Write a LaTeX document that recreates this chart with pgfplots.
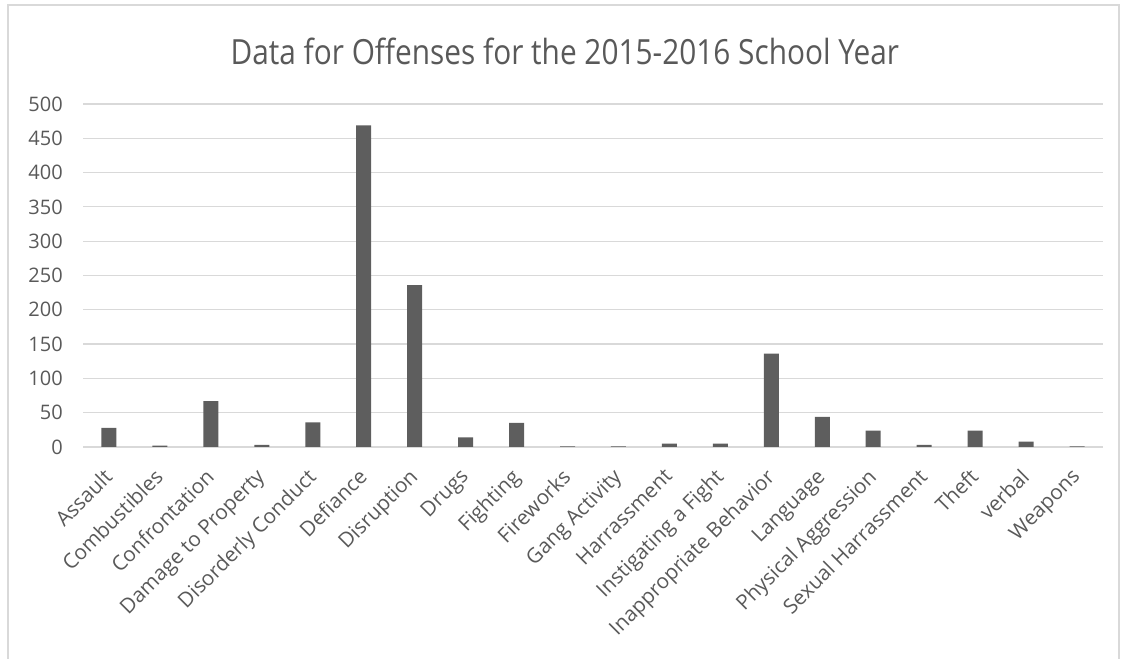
\documentclass[border=0pt]{standalone}
\usepackage{pgfplots}
\pgfplotsset{compat=1.18}
\usepackage{fontspec}
\setmainfont{Open Sans}
\definecolor{txt}{HTML}{595959}
\definecolor{barc}{HTML}{5E5E5E}
\definecolor{gridc}{HTML}{D9D9D9}
\begin{document}
\begin{tikzpicture}
\useasboundingbox (-62.625pt,-159pt) rectangle (781.125pt,335.25pt);
\draw[gridc, line width=0.9pt] (-56.6pt,-159pt) -- (-56.6pt,331.5pt) -- (776.6pt,331.5pt) -- (776.6pt,-159pt);
\node[txt, font=\fontsize{26}{32}\selectfont, xscale=0.86] at (361pt,297pt) {Data for Offenses for the 2015-2016 School Year};
\begin{axis}[
  at={(0pt,0pt)}, anchor=south west,
  scale only axis,
  width=764.25pt, height=257.25pt,
  xmin=-0.5, xmax=19.5, ymin=0, ymax=500,
  ytick distance=50,
  xtick={0,...,19},
  xticklabels={Assault,Combustibles,Confrontation,Damage to Property,Disorderly Conduct,Defiance,Disruption,Drugs,Fighting,Fireworks,Gang Activity,Harrassment,Instigating a Fight,Inappropriate Behavior,Language,Physical Aggression,Sexual Harrassment,Theft,verbal,Weapons},
  xticklabel style={xshift=-5pt, yshift=-15pt, rotate=45, anchor=north east, inner sep=0pt, font=\fontsize{15.5}{18}\selectfont},
  yticklabel style={xshift=-12pt, font=\fontsize{15}{18}\selectfont},
  tick label style={text=txt},
  /pgf/number format/assume math mode=true,
  major tick length=0pt,
  ymajorgrids, grid style={gridc, line width=0.9pt},
  axis line style={draw=none},
]
\addplot[ybar, bar width=11.25pt, fill=barc, draw=none] coordinates {
(0,28) (1,2) (2,67) (3,3) (4,36) (5,469) (6,236) (7,14) (8,35) (9,1)
(10,1) (11,5) (12,5) (13,136) (14,44) (15,24) (16,3) (17,24) (18,8) (19,1)
};
\end{axis}
\end{tikzpicture}
\end{document}
